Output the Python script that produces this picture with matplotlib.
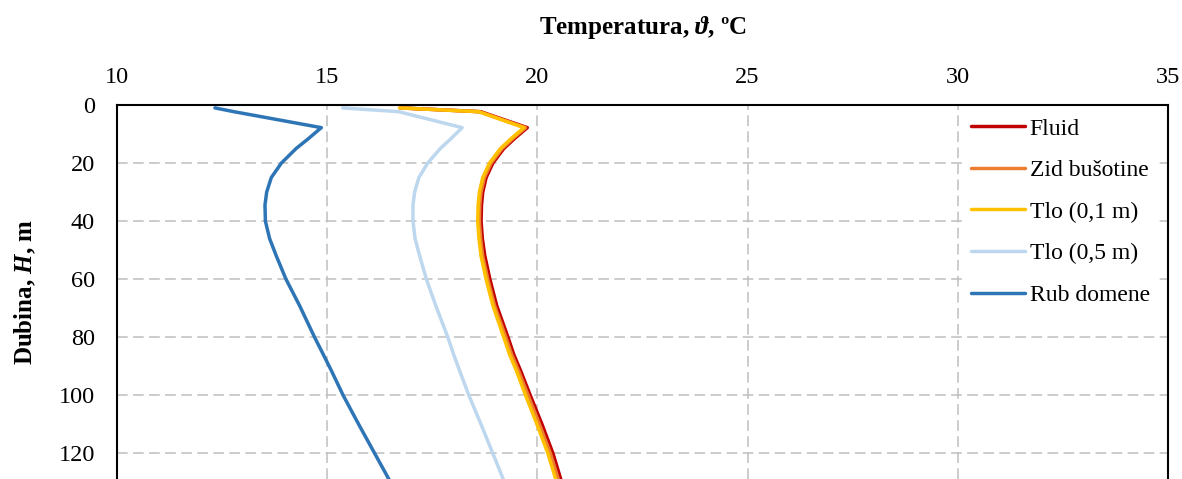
import matplotlib
matplotlib.use("Agg")
import matplotlib.pyplot as plt

# depth points, m
depth = [1, 2.3, 7.8, 11.5, 15, 20, 25, 30, 34.5, 40, 46, 52, 60, 69, 80, 86, 91.5,
         100, 110, 120, 130]

# temperatures, degC
fluid = [16.75, 18.65, 19.76, 19.46, 19.20, 18.94, 18.78, 18.70, 18.67, 18.66, 18.69,
         18.75, 18.87, 19.03, 19.30, 19.44, 19.60, 19.83, 20.11, 20.37, 20.58]
zid = [16.73, 18.62, 19.72, 19.42, 19.16, 18.90, 18.74, 18.66, 18.63, 18.62, 18.65,
       18.70, 18.82, 18.98, 19.25, 19.39, 19.55, 19.78, 20.05, 20.31, 20.52]
tlo_01 = [16.72, 18.60, 19.68, 19.38, 19.12, 18.86, 18.70, 18.62, 18.59, 18.58, 18.61,
          18.66, 18.78, 18.94, 19.20, 19.34, 19.50, 19.72, 19.99, 20.25, 20.46]
tlo_05 = [15.37, 16.70, 18.21, 17.95, 17.69, 17.39, 17.18, 17.08, 17.04, 17.04, 17.09,
          17.20, 17.36, 17.58, 17.87, 18.01, 18.15, 18.37, 18.66, 18.94, 19.22]
rub = [12.33, 12.78, 14.86, 14.56, 14.26, 13.91, 13.67, 13.56, 13.52, 13.53, 13.63,
       13.79, 14.02, 14.34, 14.70, 14.91, 15.10, 15.38, 15.75, 16.13, 16.51]

labels = ["Fluid", "Zid bušotine", "Tlo (0,1 m)", "Tlo (0,5 m)", "Rub domene"]
colors = ["#C00000", "#ED7D31", "#FFC000", "#BDD7EE", "#2E75B6"]
x_ticks = [10, 15, 20, 25, 30, 35]
y_ticks = [0, 20, 40, 60, 80, 100, 120]

plt.rcParams["font.family"] = ["Liberation Serif", "DejaVu Serif"]
plt.rcParams["mathtext.fontset"] = "custom"
plt.rcParams["mathtext.rm"] = "Liberation Serif:bold"
plt.rcParams["mathtext.bf"] = "Liberation Serif:bold"
plt.rcParams["mathtext.it"] = "Liberation Serif:italic:bold"

fig = plt.figure(figsize=(11.82, 4.79), dpi=100)
ax = fig.add_axes([117 / 1182, 0, (1168 - 117) / 1182, 1 - 105 / 479])

for series, label, color in zip([fluid, zid, tlo_01, tlo_05, rub], labels, colors):
    ax.plot(series, depth, color=color, lw=2.5, label=label,
            solid_joinstyle="round", solid_capstyle="round")

ax.set_xlim(10, 35)
ax.set_ylim(128.8, 0)
ax.set_xticks(x_ticks)
ax.set_yticks(y_ticks)
ax.xaxis.tick_top()
ax.xaxis.set_label_position("top")
ax.tick_params(length=0, labelsize=17.5)
ax.tick_params(axis="x", pad=12)
ax.tick_params(axis="y", pad=16)

ax.grid(True, color="#BFBFBF", lw=1.1, linestyle=(0, (7, 3.5)))
ax.set_axisbelow(True)
for side in ["left", "top", "right"]:
    ax.spines[side].set_linewidth(1.5)
    ax.spines[side].set_color("black")
ax.spines["bottom"].set_visible(False)

ax.set_xlabel(r"Temperatura, $\mathit{\vartheta}$, ºC", fontsize=18, fontweight="bold", labelpad=24)
ax.set_ylabel(r"Dubina, $\mathit{H}$, m", fontsize=18, fontweight="bold", labelpad=15)

leg = ax.legend(loc="upper right", bbox_to_anchor=(0.995, 1), fontsize=17, frameon=True,
                fancybox=False, edgecolor="none", facecolor="white", framealpha=1,
                handlelength=2.3, handletextpad=0.2, labelspacing=0.85,
                borderpad=0.35, borderaxespad=0.2)

fig.savefig("out.png", dpi=100)
